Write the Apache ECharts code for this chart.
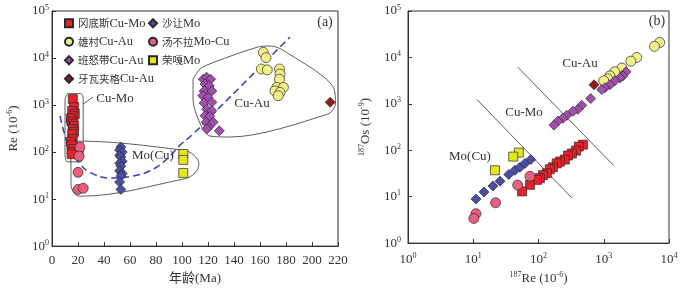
<!DOCTYPE html>
<html><head><meta charset="utf-8">
<script src="https://cdn.jsdelivr.net/npm/echarts/dist/echarts.min.js"></script>
<style>html,body{margin:0;padding:0;background:#fff}#c{width:681px;height:290px}</style>
</head><body><div id="c"></div>
<script>
// ---------- names ----------
const seriesNames = ['冈底斯Cu-Mo','沙让Mo','雄村Cu-Au','汤不拉Mo-Cu','班怒带Cu-Au','荣嘎Mo','牙瓦夹格Cu-Au'];

// ---------- panel (a): age (Ma) vs Re (10^-6) ----------
const ageGangdise = [[16,1340],[17,900],[15.5,750],[17.5,650],[16.5,580],[14.5,520],[15,450],[16,400],[17,360],[16,310],[17,270],[15.5,240],[16,190],[14.5,165],[15,140],[16.5,115],[16,100],[15,90]];
const ageShaRang = [[53,128],[52,110],[54,100],[52,85],[53,78],[54,64],[52,58],[53,50],[52,40],[54,35],[53,31],[52,23],[53,16]];
const ageXiongcun = [[162.5,13200],[164.6,10200],[161,5850],[165.6,5600],[175,5850],[175.4,4570],[175,3550],[173,2380],[178,2380],[171.5,2000],[175.4,1860],[174,1580]];
const ageTangbula = [[21.5,126],[20.8,82],[20,37],[20,16],[24,17]];
const ageBannu = [[116.4,3550],[119,3900],[122,3550],[117.7,2800],[121,2570],[117,2000],[123,2000],[116,1580],[120,1450],[117,1100],[123,1140],[119,815],[123,760],[117.7,590],[121.5,575],[118.5,430],[124,430],[120.3,335],[119,310],[128.7,283]];
const ageRongga = [[101,91],[101,68],[101,36]];
const ageYawa = [[214,1150]];

// envelopes and trend (panel a)
const envCuMo = [[12,1750],[22,1750],[24,1300],[24,85],[22,62],[12,62],[10,85],[10,1300],[12,1750]];
const envMoCu = [[15.4,141],[20,171],[100.8,110],[109,87],[113,56],[110,36],[102,27],[21.5,11.5],[17,13.4],[14.6,21],[14.6,116],[15.4,141]];
const envCuAu = [[108.5,3550],[114,5860],[125,8200],[158,17000],[168,18000],[179,14000],[217,2200],[218,1050],[212,640],[137,209],[121.5,219],[114,400],[108.5,1340],[108.5,3550]];
const trendCurve = [[6.2,585],[9.2,266],[13.8,116],[21.5,56],[29.2,37],[44.6,28],[62.3,31],[75.4,40],[88.5,71],[98.5,141],[107.7,230],[121.5,555],[144.6,2400],[163.8,8200],[183,28000]];
const cuMoLeader = [[24,1050],[31.5,1480]];

// ---------- panel (b): 187Re (10^-6) vs 187Os (10^-9) ----------
const reGangdise = [[480,132],[415,120],[375,98],[325,85],[283,77],[253,63],[213,57],[190,52],[166,43],[149,39],[134,32],[117,29],[105,25],[95,23],[74,18],[56,13]];
const reShaRang = [[11,8.9],[14.6,12.6],[20,17],[25.7,21.6],[35,30],[43.5,37],[52,43],[62,52],[76,63]];
const reXiongcun = [[7200,21000],[6000,17300],[3200,10000],[2600,8300],[1900,5900],[1480,4900],[1240,4000],[1150,3450],[1000,3150]];
const reTangbula = [[74,27.5],[48,17.8],[22,7.4],[11,4.3],[10.2,3.4]];
const reBannu = [[2190,4900],[1960,4000],[1770,3620],[1480,3150],[1240,2570],[1040,2230],[930,2030],[630,1300],[460,930],[400,760],[337,690],[271,565],[236,490],[198,425],[173,348]];
const reRongga = [[50,89],[41,73],[21.5,37]];
const reYawa = [[710,2570]];
const boundary1 = [[11.4,1240],[325,9.4]];
const boundary2 = [[48,6200],[1420,47]];

// ---------- axis ranges (log decades) ----------
const reAgeYRange = [1, 100000];
const reXRange = [1, 10000];
const osYRange = [1, 100000];

const SERIF = '"Liberation Serif", "Noto Sans CJK SC", serif';
const CJK = '"Noto Sans CJK SC", serif';
const TXT = '#333';
const rich = {
  b:{fontSize:13, fontFamily:SERIF, color:TXT, lineHeight:15},
  s:{fontSize:8, fontFamily:SERIF, color:TXT, lineHeight:8, verticalAlign:'top'}
};
const legendRich = {
  c:{fontSize:10.5, fontFamily:CJK, color:TXT},
  l:{fontSize:12.5, fontFamily:SERIF, color:TXT}
};
const legendFmt = name => {
  const m = name.match(/^([\u4e00-\u9fff]+)(.*)$/);
  return m ? '{c|' + m[1] + '}{l|' + m[2] + '}' : name;
};
const logFmt = v => '{b|10}{s|' + Math.round(Math.log10(v)) + '}';

const styles = [
  {symbol:'rect', color:'#e8212b', size:9},
  {symbol:'diamond', color:'#4a4fa3', size:10},
  {symbol:'circle', color:'#f3f08c', size:10},
  {symbol:'circle', color:'#e8607e', size:10},
  {symbol:'diamond', color:'#a24ead', size:10},
  {symbol:'rect', color:'#e6e61c', size:9},
  {symbol:'diamond', color:'#8e1d1d', size:10}
];
const ageData = [ageGangdise, ageShaRang, ageXiongcun, ageTangbula, ageBannu, ageRongga, ageYawa];
const reData = [reGangdise, reShaRang, reXiongcun, reTangbula, reBannu, reRongga, reYawa];

function scatter(i, data, axis){
  const st = styles[i];
  return {type:'scatter', name:seriesNames[i], xAxisIndex:axis, yAxisIndex:axis, data:data,
    symbol:st.symbol, symbolSize:st.size, z:5,
    itemStyle:{color:st.color, borderColor:'#2a2a2a', borderWidth:0.7, opacity:1},
    emphasis:{disabled:true}};
}
function line(data, axis, opts){
  return Object.assign({type:'line', xAxisIndex:axis, yAxisIndex:axis, data:data, showSymbol:false, symbol:'none',
    silent:true, z:2, lineStyle:{color:'#333', width:0.8}}, opts||{});
}

const series = [];
series.push(line(envCuMo,0,{smooth:0.35}));
series.push(line(envMoCu,0,{smooth:0.35}));
series.push(line(envCuAu,0,{smooth:0.3}));
series.push(line(cuMoLeader,0));
series.push(line(trendCurve,0,{smooth:0.4, lineStyle:{color:'#3a3db5', width:1.5, type:[7,4]}}));
series.push(line(boundary1,1));
series.push(line(boundary2,1));
for(let i=0;i<7;i++) series.push(scatter(i, ageData[i], 0));
for(let i=0;i<7;i++) series.push(scatter(i, reData[i], 1));

const axisCommon = {
  axisLine:{show:true, onZero:false, lineStyle:{color:'#333', width:1}},
  axisTick:{show:true, inside:true, length:4, lineStyle:{color:'#333'}},
  splitLine:{show:false}
};
function logAxis(grid, range, name, gap, margin, extra){
  return Object.assign({}, axisCommon, {type:'log', logBase:10, gridIndex:grid, min:range[0], max:range[1],
    name:name, nameLocation:'middle', nameGap:gap, nameTextStyle:{rich:rich, color:TXT},
    axisLabel:{formatter:logFmt, rich:rich, margin:margin}}, extra||{});
}
const legendCommon = {orient:'vertical', top:12, itemWidth:8, itemHeight:8, itemGap:6,
  formatter:legendFmt, textStyle:{rich:legendRich, color:TXT}, selectedMode:false};

const option = {
  animation:false,
  backgroundColor:'#fff',
  grid:[
    {left:52, top:11, width:286, height:236, show:true, borderColor:'#333', borderWidth:1, backgroundColor:'transparent'},
    {left:408, top:11, width:261, height:236, show:true, borderColor:'#333', borderWidth:1, backgroundColor:'transparent'}
  ],
  xAxis:[
    Object.assign({}, axisCommon, {type:'value', gridIndex:0, min:0, max:220, interval:20,
      name:'年龄(Ma)', nameLocation:'middle', nameGap:24, nameTextStyle:{fontSize:13, fontFamily:SERIF, color:TXT},
      axisLabel:{fontSize:13, fontFamily:SERIF, color:TXT, margin:8}}),
    logAxis(1, reXRange, '{s|187}{b|Re (10}{s|-6}{b|)}', 24, 9)
  ],
  yAxis:[
    logAxis(0, reAgeYRange, '{b|Re (10}{s|-6}{b|)}', 31, 3, {nameRotate:90}),
    logAxis(1, osYRange, '{s|187}{b|Os (10}{s|-9}{b|)}', 35, 7, {nameRotate:90})
  ],
  legend:[
    Object.assign({}, legendCommon, {data:[seriesNames[0],seriesNames[2],seriesNames[4],seriesNames[6]], left:59}),
    Object.assign({}, legendCommon, {data:[seriesNames[1],seriesNames[3],seriesNames[5]], left:143})
  ],
  graphic:[
    {type:'text', x:325, y:22, style:{text:'(a)', font:'14px "Liberation Serif"', fill:TXT, align:'center', verticalAlign:'middle'}},
    {type:'text', x:657, y:21, style:{text:'(b)', font:'14px "Liberation Serif"', fill:TXT, align:'center', verticalAlign:'middle'}},
    {type:'text', x:115, y:99, style:{text:'Cu-Mo', font:'13px "Liberation Serif"', fill:TXT, align:'center', verticalAlign:'middle'}},
    {type:'text', x:153, y:156, style:{text:'Mo(Cu)', font:'13px "Liberation Serif"', fill:TXT, align:'center', verticalAlign:'middle'}},
    {type:'text', x:252, y:104, style:{text:'Cu-Au', font:'13px "Liberation Serif"', fill:TXT, align:'center', verticalAlign:'middle'}},
    {type:'text', x:580, y:64, style:{text:'Cu-Au', font:'13px "Liberation Serif"', fill:TXT, align:'center', verticalAlign:'middle'}},
    {type:'text', x:524, y:113, style:{text:'Cu-Mo', font:'13px "Liberation Serif"', fill:TXT, align:'center', verticalAlign:'middle'}},
    {type:'text', x:470, y:157, style:{text:'Mo(Cu)', font:'13px "Liberation Serif"', fill:TXT, align:'center', verticalAlign:'middle'}}
  ],
  series:series
};
const chart = echarts.init(document.getElementById('c'), null, {renderer:'canvas'});
chart.setOption(option);
</script></body></html>
